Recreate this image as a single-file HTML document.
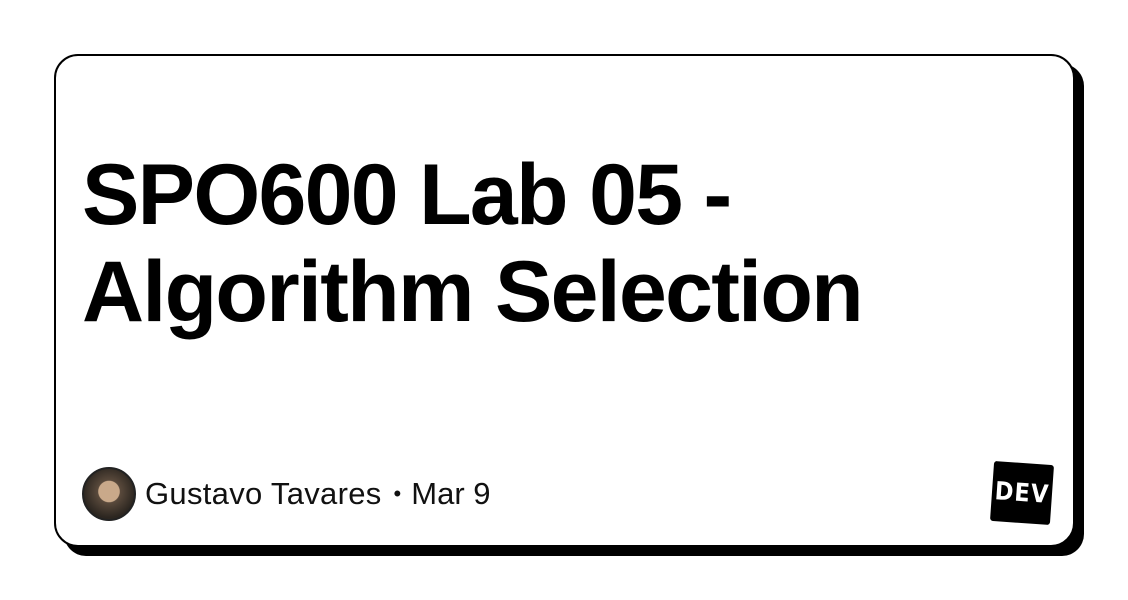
<!DOCTYPE html>
<html><head><meta charset="utf-8"><style>
body{margin:0;width:1128px;height:600px;background:#fff;position:relative;overflow:hidden;font-family:"Liberation Sans",sans-serif}
.shadow{position:absolute;left:64px;top:64px;width:1020px;height:492px;background:#000;border-radius:22px}
.card{position:absolute;left:54px;top:54px;width:1017px;height:489px;background:#fff;border:2px solid #000;border-radius:24px}
h1{position:absolute;left:82px;top:147px;margin:0;font-size:86px;line-height:97px;font-weight:bold;letter-spacing:-1.7px;color:#000}
.avatar{position:absolute;left:82px;top:467px;width:50px;height:50px;border-radius:50%;border:2px solid #222;background:radial-gradient(circle at 50% 45%,#c9a98a 0 28%,#5a4a3c 30%,#2c2620 70%)}
.meta{position:absolute;left:145px;top:476px;font-size:31px;color:#111;white-space:nowrap}
.meta .dot{font-size:22px;margin:0 10px 0 12px;vertical-align:3px}
.dev{position:absolute;left:992px;top:463px;width:60px;height:60px;background:#000;border-radius:3px;transform:rotate(4deg);color:#fff;font-weight:bold;font-size:25px;line-height:60px;text-align:center;letter-spacing:1px;font-family:"DejaVu Sans Condensed","Liberation Sans",sans-serif}
</style></head><body>
<div class="shadow"></div>
<div class="card"></div>
<h1>SPO600 Lab 05 -<br>Algorithm Selection</h1>
<div class="avatar"></div>
<div class="meta"><span style="letter-spacing:0.3px">Gustavo Tavares</span><span class="dot">•</span>Mar 9</div>
<div class="dev">DEV</div>
</body></html>
